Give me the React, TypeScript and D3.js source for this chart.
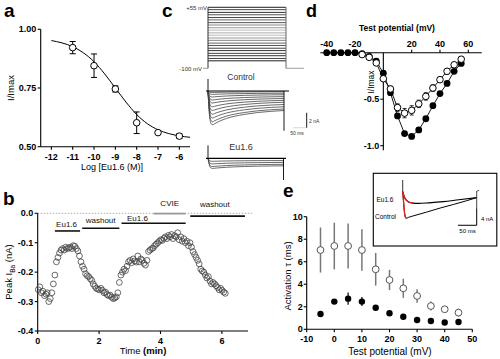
import React from "react";
import * as d3 from "d3";

const FONT = "'Liberation Sans', Arial, Helvetica, sans-serif";

// ---------- Panel a : concentration-response ----------
const aLogConc = [-11, -10, -9, -8, -7, -6];
const aMean = [0.922, 0.845, 0.746, 0.602, 0.56, 0.545];
const aSem = [0.026, 0.05, 0.013, 0.046, 0.006, 0.01];
const aFitLogConc = [-12, -11.5, -11, -10.5, -10, -9.5, -9, -8.5, -8, -7.5, -7, -6.5, -6, -5.5];
const aFitValue = [0.952, 0.942, 0.926, 0.9, 0.862, 0.81, 0.75, 0.69, 0.637, 0.598, 0.572, 0.556, 0.546, 0.54];
const aXTicks = [-12, -11, -10, -9, -8, -7, -6];
const aYTicks = [0.5, 0.75, 1.0];

// ---------- Panel b : time course ----------
const bTime = [
  0.02, 0.07, 0.12, 0.17, 0.22, 0.27, 0.31, 0.36, 0.41, 0.46, 0.51, 0.56, 0.61, 0.66, 0.71, 0.76, 0.81, 0.86, 0.91, 0.96,
  1.01, 1.06, 1.11, 1.16, 1.21, 1.26, 1.31, 1.36, 1.41, 1.46, 1.51, 1.56, 1.61, 1.66, 1.71, 1.76, 1.81, 1.86, 1.91, 1.96,
  2.01, 2.06, 2.11, 2.16, 2.21, 2.26, 2.31, 2.36, 2.41, 2.46, 2.51, 2.56, 2.61, 2.66, 2.71, 2.76, 2.81, 2.86, 2.91, 2.96,
  3.01, 3.06, 3.11, 3.16, 3.21, 3.26, 3.31, 3.36, 3.41, 3.46, 3.51, 3.56, 3.61, 3.66, 3.71, 3.76, 3.81, 3.86, 3.91, 3.96,
  4.01, 4.06, 4.11, 4.16, 4.21, 4.26, 4.31, 4.36, 4.41, 4.46, 4.51, 4.56, 4.61, 4.66, 4.71, 4.76, 4.81, 4.86, 4.91, 4.96,
  5.01, 5.06, 5.11, 5.16, 5.21, 5.26, 5.31, 5.36, 5.41, 5.46, 5.51, 5.56, 5.61, 5.66, 5.71, 5.76, 5.81, 5.86, 5.91, 5.96,
  6.01, 6.06, 6.11,
];
const bCurrent = [
  -0.26, -0.25, -0.27, -0.265, -0.28, -0.275, -0.27, -0.3, -0.29, -0.27, -0.24, -0.21, -0.165, -0.15, -0.135, -0.125, -0.12, -0.125, -0.115, -0.12,
  -0.118, -0.115, -0.12, -0.11, -0.112, -0.12, -0.128, -0.145, -0.165, -0.18, -0.19, -0.205, -0.212, -0.215, -0.222, -0.228, -0.24, -0.248, -0.255, -0.258,
  -0.26, -0.255, -0.262, -0.27, -0.268, -0.276, -0.28, -0.278, -0.285, -0.29, -0.288, -0.284, -0.27, -0.235, -0.21, -0.2, -0.19, -0.195, -0.18, -0.165,
  -0.16, -0.168, -0.155, -0.162, -0.166, -0.145, -0.165, -0.155, -0.16, -0.17, -0.176, -0.16, -0.13, -0.125, -0.12, -0.118, -0.11, -0.105, -0.1, -0.095,
  -0.09, -0.092, -0.085, -0.08, -0.086, -0.075, -0.08, -0.072, -0.086, -0.076, -0.08, -0.066, -0.09, -0.08, -0.095, -0.086, -0.1, -0.095, -0.11, -0.1,
  -0.115, -0.13, -0.14, -0.15, -0.16, -0.172, -0.19, -0.196, -0.2, -0.21, -0.22, -0.215, -0.23, -0.24, -0.235, -0.24, -0.246, -0.252, -0.26, -0.255,
  -0.262, -0.268, -0.272,
];
const bXTicks = [0, 2, 4, 6];
const bYTicks = [0, -0.1, -0.2, -0.3, -0.4];
const bBarLabel = ["Eu1.6", "washout", "Eu1.6", "CVIE", "washout"];
const bBarStart = [0.56, 1.45, 2.73, 3.77, 4.97];
const bBarEnd = [1.38, 2.66, 4.82, 4.82, 6.75];
const bBarLevel = [-0.06, -0.051, -0.034, -0.001, -0.0095];
const bLabelTime = [0.94, 2.05, 3.25, 4.3, 5.77];
const bLabelLevel = [-0.045, -0.033, -0.026, 0.025, 0.022];
const bBarColor = ["#111", "#111", "#111", "#999", "#111"];

// ---------- Panel c : protocol and traces ----------
const cProtVolt = [55, 49, 42, 36, 29, 23, 16, 10, 3, -3, -10, -16, -23, -29, -36, -42, -49, -55, -62, -68, -75, -81];
const cProtShade = ["#222", "#444", "#333", "#555", "#444", "#666", "#555", "#888", "#999", "#bbb", "#aaa", "#bbb", "#999", "#888", "#666", "#555", "#444", "#333", "#444", "#333", "#444", "#222"];
const cTime = [0, 2, 6, 12, 18, 25, 35, 50, 70, 100, 140, 190, 240, 290];
const cAct = [0, 0.3, 0.75, 0.97, 1, 1, 1, 1, 1, 1, 1, 1, 1, 1];
const cInact = [0, 0.3, 0.75, 0.97, 1, 0.93, 0.83, 0.7, 0.56, 0.41, 0.27, 0.14, 0.06, 0];
const cCtrlPeak = [4.5, 4.1, 3.6, 3.1, 2.6, 2.1, 1.6, 1.2, 0.8, 0.45, 0.2];
const cCtrlEnd = [2.6, 2.4, 2.1, 1.8, 1.5, 1.25, 1.0, 0.75, 0.5, 0.3, 0.1];
const cEuPeak = [1.35, 1.1, 0.75, 0.4];
const cEuEnd = [1.0, 0.8, 0.55, 0.3];

// ---------- Panel d : I-V ----------
const dCtrlV = [-40, -35, -30, -25, -20, -15, -10, -5, 0, 5, 10, 15, 20, 25, 30, 35, 40, 45, 50, 55];
const dCtrlI = [0, 0, 0, 0, 0, -0.01, -0.04, -0.09, -0.22, -0.43, -0.68, -0.87, -0.9, -0.83, -0.71, -0.57, -0.44, -0.33, -0.2, -0.115];
const dEuV = [-15, -10, -5, 0, 5, 10, 15, 20, 25, 30, 35, 40, 45, 50, 55];
const dEuI = [-0.02, -0.05, -0.11, -0.28, -0.39, -0.59, -0.65, -0.62, -0.55, -0.47, -0.38, -0.29, -0.2, -0.13, -0.07];
const dEuErr = [0.01, 0.01, 0.02, 0.02, 0.03, 0.04, 0.05, 0.05, 0.04, 0.04, 0.035, 0.03, 0.03, 0.025, 0.02];
const dXTicks = [-40, -20, 20, 40, 60];
const dYTicks = [-0.5, -1.0];

// ---------- Panel e : activation tau ----------
const eV = [-5, 0, 5, 10, 15, 20, 25, 30, 35, 40, 45];
const eEuTau = [7.04, 7.4, 7.4, 7.04, 5.33, 4.38, 3.64, 2.96, 2.07, 1.78, 1.48];
const eEuErr = [2.0, 2.07, 2.0, 1.85, 1.45, 0.9, 0.85, 0.6, 0.4, 0.15, 0.35];
const eCtrlTau = [1.36, 2.46, 2.72, 2.46, 1.92, 1.42, 1.12, 0.83, 0.74, 0.6, 0.65];
const eCtrlErr = [0.1, 0.15, 0.55, 0.4, 0.15, 0.1, 0.08, 0.06, 0.05, 0.05, 0.05];
const eXTicks = [-10, 0, 10, 20, 30, 40, 50];
const eYTicks = [0, 2, 4, 6, 8, 10];
const insetCtrlT = [0, 2, 4, 6, 9, 15, 30, 64, 100, 136, 170, 198];
const insetCtrlI = [0, -2, -4.2, -5.6, -6.26, -6.05, -5.65, -4.8, -3.85, -3.0, -2.15, -1.4];
const insetEuT = [0, 3, 6, 10, 15, 20, 28, 42, 70, 109, 150, 198];
const insetEuI = [0, -0.9, -1.55, -2.0, -2.35, -2.55, -2.7, -2.75, -2.62, -2.35, -1.9, -1.4];
const insetCtrlRedCount = 5;
const insetEuRedCount = 7;

const AX = { stroke: "#000", strokeWidth: 1.1 } as const;

function PanelA() {
  const x = d3.scaleLinear().domain([-12.5, -5.5]).range([40.7, 190]);
  const y = d3.scaleLinear().domain([0.5, 1]).range([146.7, 29.3]);
  const line = d3
    .line<number>()
    .x((_, i) => x(aFitLogConc[i]))
    .y((d) => y(d))
    .curve(d3.curveMonotoneX);
  return (
    <g>
      <text x={4} y={17} fontSize={19} fontWeight="bold">a</text>
      <line x1={x(-12.5)} x2={x(-12.5)} y1={y(1)} y2={y(0.5)} {...AX} />
      <line x1={x(-12.5)} x2={x(-5.5)} y1={y(0.5)} y2={y(0.5)} {...AX} />
      {aYTicks.map((t) => (
        <g key={t}>
          <line x1={x(-12.5) - 3} x2={x(-12.5)} y1={y(t)} y2={y(t)} {...AX} />
          <text x={x(-12.5) - 4.5} y={y(t)} dy="0.35em" textAnchor="end" fontSize={9} fontWeight="bold">
            {t.toFixed(2)}
          </text>
        </g>
      ))}
      {aXTicks.map((t) => (
        <g key={t}>
          <line x1={x(t)} x2={x(t)} y1={y(0.5)} y2={y(0.5) + 3} {...AX} />
          <text x={x(t)} y={y(0.5) + 13} textAnchor="middle" fontSize={9} fontWeight="bold">
            {t}
          </text>
        </g>
      ))}
      <text x={112} y={170} textAnchor="middle" fontSize={9}>Log [Eu1.6 (M)]</text>
      <text transform={`translate(14,88) rotate(-90)`} textAnchor="middle" fontSize={9.5}>I/Imax</text>
      <path d={line(aFitValue) || ""} fill="none" stroke="#000" strokeWidth={1} />
      {aLogConc.map((c, i) => (
        <g key={c}>
          <line x1={x(c)} x2={x(c)} y1={y(aMean[i] - aSem[i])} y2={y(aMean[i] + aSem[i])} stroke="#000" />
          <line x1={x(c) - 3} x2={x(c) + 3} y1={y(aMean[i] - aSem[i])} y2={y(aMean[i] - aSem[i])} stroke="#000" />
          <line x1={x(c) - 3} x2={x(c) + 3} y1={y(aMean[i] + aSem[i])} y2={y(aMean[i] + aSem[i])} stroke="#000" />
          <circle cx={x(c)} cy={y(aMean[i])} r={3.3} fill="#fff" stroke="#000" strokeWidth={1} />
        </g>
      ))}
    </g>
  );
}

function PanelB() {
  const x = d3.scaleLinear().domain([0, 7]).range([37.7, 252.6]);
  const y = d3.scaleLinear().domain([-0.4, 0]).range([331, 213.3]);
  return (
    <g>
      <text x={3} y={205} fontSize={19} fontWeight="bold">b</text>
      <line x1={x(0)} x2={x(7)} y1={y(0)} y2={y(0)} stroke="#999" strokeWidth={0.8} strokeDasharray="1.5,1.5" />
      <line x1={x(0)} x2={x(0)} y1={y(0)} y2={y(-0.4)} {...AX} />
      <line x1={x(0)} x2={x(6.85)} y1={y(-0.4)} y2={y(-0.4)} {...AX} />
      {bYTicks.map((t) => (
        <g key={t}>
          <line x1={x(0) - 3} x2={x(0)} y1={y(t)} y2={y(t)} {...AX} />
          <text x={x(0) - 4.5} y={y(t)} dy="0.35em" textAnchor="end" fontSize={9} fontWeight="bold">
            {t.toFixed(1)}
          </text>
        </g>
      ))}
      {bXTicks.map((t) => (
        <g key={t}>
          <line x1={x(t)} x2={x(t)} y1={y(-0.4)} y2={y(-0.4) + 3} {...AX} />
          <text x={x(t)} y={y(-0.4) + 13} textAnchor="middle" fontSize={9} fontWeight="bold">
            {t}
          </text>
        </g>
      ))}
      <text x={143} y={354} textAnchor="middle" fontSize={9.5}>
        Time <tspan fontWeight="bold">(min)</tspan>
      </text>
      <text transform={`translate(12,272) rotate(-90)`} textAnchor="middle" fontSize={9.5}>
        Peak I<tspan fontSize={6.5} dy={2.5}>Ba</tspan>
        <tspan dy={-2.5}> (nA)</tspan>
      </text>
      {bBarLabel.map((lab, i) => (
        <g key={i}>
          <line
            x1={x(bBarStart[i])}
            x2={x(bBarEnd[i])}
            y1={y(bBarLevel[i])}
            y2={y(bBarLevel[i])}
            stroke={bBarColor[i]}
            strokeWidth={1.6}
          />
          <text x={x(bLabelTime[i])} y={y(bLabelLevel[i])} textAnchor="middle" fontSize={8} fill="#111">
            {lab}
          </text>
        </g>
      ))}
      {bTime.map((t, i) => (
        <circle key={i} cx={x(t)} cy={y(bCurrent[i])} r={2.9} fill="none" stroke="#444" strokeWidth={0.8} />
      ))}
    </g>
  );
}

function traceValues(peak: number, end: number) {
  return cTime.map((_, k) => -(end * cAct[k] + (peak - end) * cInact[k]));
}

function PanelC() {
  const pv = d3.scaleLinear().domain([-100, 55]).range([68.3, 7.3]);
  const tx = d3.scaleLinear().domain([0, 290]).range([208, 284]);
  const yCtrl = d3.scaleLinear().domain([0, -5]).range([91, 128.5]);
  const yEu = d3.scaleLinear().domain([0, -5]).range([158.3, 195.8]);
  const mk = (ys: d3.ScaleLinear<number, number>) =>
    d3
      .line<number>()
      .x((_, k) => tx(cTime[k]))
      .y((d) => ys(d))
      .curve(d3.curveMonotoneX);
  const lineCtrl = mk(yCtrl);
  const lineEu = mk(yEu);
  return (
    <g>
      <text x={162} y={17} fontSize={19} fontWeight="bold">c</text>
      {/* voltage protocol */}
      {cProtVolt.map((v, i) => (
        <line key={i} x1={208} x2={286} y1={pv(v)} y2={pv(v)} stroke={cProtShade[i]} strokeWidth={1} />
      ))}
      <line x1={208} x2={208} y1={pv(55)} y2={pv(-100)} stroke="#333" strokeWidth={1} />
      <line x1={286} x2={286} y1={pv(55)} y2={pv(-100)} stroke="#666" strokeWidth={1} />
      <line x1={203} x2={208} y1={pv(-100)} y2={pv(-100)} stroke="#888" strokeWidth={0.8} />
      <line x1={286} x2={304} y1={pv(-100)} y2={pv(-100)} stroke="#888" strokeWidth={0.8} />
      <text x={207} y={10} textAnchor="end" fontSize={6} fill="#333">+55 mV</text>
      <text x={202} y={70.5} textAnchor="end" fontSize={6} fill="#333">-100 mV</text>
      {/* control traces */}
      <text x={241} y={80} textAnchor="middle" fontSize={8.5} fill="#333">Control</text>
      {cCtrlPeak.map((p, i) => (
        <path key={i} d={lineCtrl(traceValues(p, cCtrlEnd[i])) || ""} fill="none" stroke="#444" strokeWidth={0.8} />
      ))}
      <line x1={206} x2={289} y1={yCtrl(0)} y2={yCtrl(0)} stroke="#000" strokeWidth={1.2} />
      <line x1={208} x2={208} y1={yCtrl(0) - 12} y2={yCtrl(0)} stroke="#000" strokeWidth={0.9} />
      <line x1={284} x2={284} y1={yCtrl(0)} y2={yCtrl(-5.3)} stroke="#000" strokeWidth={0.9} />
      {/* scale bar */}
      <line x1={306.7} x2={306.7} y1={yCtrl(-2.9)} y2={yCtrl(-4.9)} stroke="#000" strokeWidth={0.9} />
      <line x1={tx(0) + 85} x2={tx(0) + 85 + (tx(50) - tx(0))} y1={yCtrl(-4.9)} y2={yCtrl(-4.9)} stroke="#bbb" strokeWidth={0.6} />
      <text x={309} y={123} fontSize={5} fill="#333">2 nA</text>
      <text x={297} y={134.5} textAnchor="middle" fontSize={5} fill="#333">50 ms</text>
      {/* Eu1.6 traces */}
      <text x={241} y={150} textAnchor="middle" fontSize={9} fill="#333">Eu1.6</text>
      {cEuPeak.map((p, i) => (
        <path key={i} d={lineEu(traceValues(p, cEuEnd[i])) || ""} fill="none" stroke="#444" strokeWidth={0.8} />
      ))}
      <line x1={206} x2={286} y1={yEu(0)} y2={yEu(0)} stroke="#000" strokeWidth={1.2} />
      <line x1={208} x2={208} y1={yEu(0) - 13} y2={yEu(0)} stroke="#000" strokeWidth={0.9} />
      <line x1={283.5} x2={283.5} y1={yEu(0)} y2={yEu(-2.9)} stroke="#000" strokeWidth={0.9} />
    </g>
  );
}

function PanelD() {
  const x = d3.scaleLinear().domain([-40, 60]).range([326.7, 468.3]);
  const y = d3.scaleLinear().domain([0, -1]).range([52.7, 145.7]);
  const ln = (vs: number[]) =>
    d3
      .line<number>()
      .x((_, i) => x(vs[i]))
      .y((d) => y(d));
  return (
    <g>
      <text x={306} y={16.5} fontSize={18} fontWeight="bold">d</text>
      <text x={397} y={31} textAnchor="middle" fontSize={8.5} fontWeight="bold">Test potential (mV)</text>
      <line x1={x(-44.5)} x2={x(69.5)} y1={y(0)} y2={y(0)} {...AX} />
      <line x1={x(0)} x2={x(0)} y1={y(0)} y2={y(-1.05)} {...AX} />
      {dXTicks.map((t) => (
        <g key={t}>
          <line x1={x(t)} x2={x(t)} y1={y(0) - 3} y2={y(0)} {...AX} />
          <text x={x(t)} y={y(0) - 6} textAnchor="middle" fontSize={9} fontWeight="bold">
            {t}
          </text>
        </g>
      ))}
      {dYTicks.map((t) => (
        <g key={t}>
          <line x1={x(0) - 3} x2={x(0)} y1={y(t)} y2={y(t)} {...AX} />
          <text x={x(0) - 4} y={y(t)} dy="0.35em" textAnchor="end" fontSize={9} fontWeight="bold">
            {t.toFixed(1)}
          </text>
        </g>
      ))}
      <text transform={`translate(374,82) rotate(-90)`} textAnchor="middle" fontSize={8.5}>I/Imax</text>
      <path d={ln(dCtrlV)(dCtrlI) || ""} fill="none" stroke="#000" strokeWidth={0.9} />
      <path d={ln(dEuV)(dEuI) || ""} fill="none" stroke="#000" strokeWidth={0.9} />
      {dCtrlV.map((v, i) => (
        <circle key={"c" + i} cx={x(v)} cy={y(dCtrlI[i])} r={3.4} fill="#000" />
      ))}
      {dEuV.map((v, i) => (
        <g key={"e" + i}>
          <line x1={x(v)} x2={x(v)} y1={y(dEuI[i] - dEuErr[i])} y2={y(dEuI[i] + dEuErr[i])} stroke="#000" strokeWidth={0.8} />
          <line x1={x(v) - 2} x2={x(v) + 2} y1={y(dEuI[i] - dEuErr[i])} y2={y(dEuI[i] - dEuErr[i])} stroke="#000" strokeWidth={0.8} />
          <line x1={x(v) - 2} x2={x(v) + 2} y1={y(dEuI[i] + dEuErr[i])} y2={y(dEuI[i] + dEuErr[i])} stroke="#000" strokeWidth={0.8} />
          <circle cx={x(v)} cy={y(dEuI[i])} r={3.3} fill="#fff" stroke="#000" strokeWidth={1} />
        </g>
      ))}
    </g>
  );
}

function PanelE() {
  const x = d3.scaleLinear().domain([-10, 50]).range([306.7, 472.3]);
  const y = d3.scaleLinear().domain([0, 10]).range([329.3, 216.7]);
  const ix = d3.scaleLinear().domain([0, 198]).range([402.7, 476.7]);
  const iy = d3.scaleLinear().domain([0, -4]).range([191.7, 208.7]);
  const ctrlLine = d3
    .line<number>()
    .x((_, i) => ix(insetCtrlT[i]))
    .y((d) => iy(d))
    .curve(d3.curveMonotoneX);
  const euLine = d3
    .line<number>()
    .x((_, i) => ix(insetEuT[i]))
    .y((d) => iy(d))
    .curve(d3.curveMonotoneX);
  return (
    <g>
      <text x={283} y={197} fontSize={19} fontWeight="bold">e</text>
      <line x1={x(-10)} x2={x(-10)} y1={y(10)} y2={y(0)} {...AX} />
      <line x1={x(-10)} x2={x(50)} y1={y(0)} y2={y(0)} {...AX} />
      {eYTicks.map((t) => (
        <g key={t}>
          <line x1={x(-10) - 3} x2={x(-10)} y1={y(t)} y2={y(t)} {...AX} />
          <text x={x(-10) - 4} y={y(t)} dy="0.35em" textAnchor="end" fontSize={9} fontWeight="bold">
            {t}
          </text>
        </g>
      ))}
      {eXTicks.map((t) => (
        <g key={t}>
          <line x1={x(t)} x2={x(t)} y1={y(0)} y2={y(0) + 3} {...AX} />
          <text x={x(t)} y={y(0) + 12.5} textAnchor="middle" fontSize={9} fontWeight="bold">
            {t}
          </text>
        </g>
      ))}
      <text x={390} y={355} textAnchor="middle" fontSize={10}>Test potential (mV)</text>
      <text transform={`translate(291,276) rotate(-90)`} textAnchor="middle" fontSize={9.5}>Activation τ (ms)</text>
      {eV.map((v, i) => (
        <g key={"o" + i}>
          <line x1={x(v)} x2={x(v)} y1={y(eEuTau[i] - eEuErr[i])} y2={y(eEuTau[i] + eEuErr[i])} stroke="#777" strokeWidth={1.5} />
          <circle cx={x(v)} cy={y(eEuTau[i])} r={3.4} fill="#fff" stroke="#555" strokeWidth={1} />
        </g>
      ))}
      {eV.map((v, i) => (
        <g key={"f" + i}>
          <line x1={x(v)} x2={x(v)} y1={y(eCtrlTau[i] - eCtrlErr[i])} y2={y(eCtrlTau[i] + eCtrlErr[i])} stroke="#000" strokeWidth={1.2} />
          <circle cx={x(v)} cy={y(eCtrlTau[i])} r={3.2} fill="#000" />
        </g>
      ))}
      {/* inset */}
      <rect x={373.3} y={173.3} width={123.5} height={72.7} fill="#fff" stroke="#000" strokeWidth={1.1} />
      <line x1={ix(0)} x2={ix(0)} y1={iy(2.75)} y2={iy(0)} stroke="#333" strokeWidth={1} />
      <path d={ctrlLine(insetCtrlI) || ""} fill="none" stroke="#000" strokeWidth={1} />
      <path d={euLine(insetEuI) || ""} fill="none" stroke="#000" strokeWidth={1.2} />
      <path
        d={
          d3
            .line<number>()
            .x((_, i) => ix(insetCtrlT[i]))
            .y((d) => iy(d))
            .curve(d3.curveMonotoneX)(insetCtrlI.slice(0, insetCtrlRedCount)) || ""
        }
        fill="none"
        stroke="#e0201b"
        strokeWidth={1.3}
      />
      <path
        d={
          d3
            .line<number>()
            .x((_, i) => ix(insetEuT[i]))
            .y((d) => iy(d))
            .curve(d3.curveMonotoneX)(insetEuI.slice(0, insetEuRedCount)) || ""
        }
        fill="none"
        stroke="#e0201b"
        strokeWidth={1.3}
      />
      <line x1={ix(198)} x2={ix(198)} y1={iy(0.15)} y2={iy(-3.9)} stroke="#333" strokeWidth={0.9} />
      <line x1={ix(198)} x2={ix(198) + 2.5} y1={iy(0.15)} y2={iy(0.3)} stroke="#333" strokeWidth={0.8} />
      <line x1={ix(198)} x2={ix(198)} y1={iy(-3.9)} y2={iy(-7.9)} stroke="#000" strokeWidth={1} />
      <line x1={ix(148)} x2={ix(198)} y1={iy(-7.9)} y2={iy(-7.9)} stroke="#000" strokeWidth={1} />
      <text x={481} y={220.5} fontSize={6}>4 nA</text>
      <text x={467.5} y={233} textAnchor="middle" fontSize={6}>50 ms</text>
      <text x={376.5} y={202} fontSize={6.5}>Eu1.6</text>
      <text x={375} y={219} fontSize={6.5}>Control</text>
    </g>
  );
}

export default function App() {
  return (
    <div style={{ position: "absolute", left: 0, top: 0 }}>
      <svg
        width={500}
        height={359}
        viewBox="0 0 500 359"
        style={{ display: "block", background: "#fff" }}
        fontFamily={FONT}
      >
        <PanelA />
        <PanelB />
        <PanelC />
        <PanelD />
        <PanelE />
      </svg>
    </div>
  );
}
